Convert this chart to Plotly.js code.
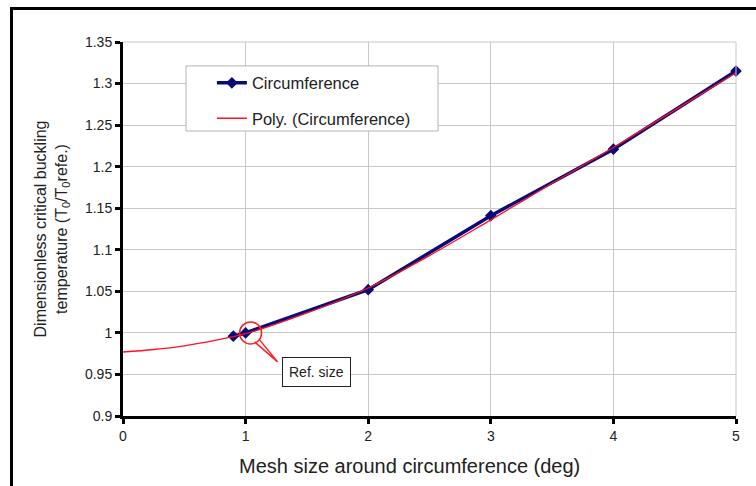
<!DOCTYPE html>
<html>
<head>
<meta charset="utf-8">
<script src="https://cdn.plot.ly/plotly-3.0.1.min.js"></script>
<style>
  html, body { margin: 0; padding: 0; background: #fff; }
  #wrap { position: relative; width: 756px; height: 486px; overflow: hidden; }
  #chart { position: absolute; left: 0; top: 0; width: 756px; height: 486px; }
  #frame { position: absolute; left: 10px; top: 7px; width: 760px; height: 500px;
           border-top: 3px solid #000; border-left: 3px solid #000; pointer-events: none; }
</style>
</head>
<body>
<div id="wrap">
  <div id="chart"></div>
  <div id="frame"></div>
</div>
<script>
// Mesh size around the circumference (deg) and the resulting buckling temperature ratio
const meshSize = [0.9, 1, 2, 3, 4, 5];
const bucklingRatio = [0.996, 1.000, 1.052, 1.141, 1.221, 1.315];

// Polynomial trend line through the same series
const trendX = [0, 0.25, 0.5, 0.75, 1, 1.5, 2, 2.5, 3, 3.5, 4, 4.5, 5];
const trendY = [0.977, 0.980, 0.9845, 0.991, 0.999, 1.024, 1.054, 1.093, 1.136, 1.180, 1.223, 1.268, 1.313];

// Axis ticks
const yTicks = [0.9, 0.95, 1, 1.05, 1.1, 1.15, 1.2, 1.25, 1.3, 1.35];
const yTickText = ['0.9', '0.95', '1', '1.05', '1.1', '1.15', '1.2', '1.25', '1.3', '1.35'];
const xTicks = [0, 1, 2, 3, 4, 5];

// Reference mesh size that is highlighted
const refX = 1;
const refY = 1.000;

const font = 'Arial, "Liberation Sans", sans-serif';

const traces = [
  {
    x: meshSize, y: bucklingRatio,
    type: 'scatter', mode: 'lines+markers',
    name: 'Circumference',
    legendgroup: 'a',
    line: { color: '#0a0a78', width: 3.5 },
    marker: { symbol: 'diamond', size: 9, color: '#0a0a78' },
    cliponaxis: false
  },
  {
    x: trendX, y: trendY,
    type: 'scatter', mode: 'lines',
    name: 'Poly. (Circumference)',
    legendgroup: 'b',
    line: { color: '#ff1020', width: 1.3, shape: 'spline', smoothing: 1 },
    cliponaxis: false
  }
];

const layout = {
  width: 756, height: 486,
  margin: { l: 123, r: 20, t: 42, b: 70 },
  paper_bgcolor: '#fff',
  plot_bgcolor: '#fff',
  font: { family: font, color: '#222', size: 14 },
  showlegend: true,
  legend: {
    x: 0.145, y: 0.937, xanchor: 'left', yanchor: 'top',
    bgcolor: 'rgba(0,0,0,0)', borderwidth: 0,
    font: { family: font, size: 16.5, color: '#222' },
    traceorder: 'grouped', tracegroupgap: 11
  },
  xaxis: {
    range: [0, 5], tickvals: xTicks, ticktext: xTicks.map(String),
    showgrid: true, gridcolor: '#c8c8c8', gridwidth: 1,
    zeroline: false, showline: true, linecolor: '#000', linewidth: 3,
    ticks: 'outside', ticklen: 5, tickwidth: 3, tickcolor: '#000',
    tickfont: { family: font, size: 14, color: '#222' }
  },
  yaxis: {
    range: [0.9, 1.35], tickvals: yTicks, ticktext: yTickText,
    showgrid: true, gridcolor: '#c8c8c8', gridwidth: 1,
    zeroline: false, showline: true, linecolor: '#000', linewidth: 3,
    ticks: 'outside', ticklen: 5, tickwidth: 3, tickcolor: '#000',
    tickfont: { family: font, size: 14, color: '#222' },
    title: {
      text: 'Dimensionless critical buckling<br>temperature (T<sub>0</sub>/T<sub>0</sub>refe.)',
      font: { family: font, size: 16, color: '#222' }, standoff: 14
    }
  },
  shapes: [
    // top grid border at 1.35 and right border at 5
    { type: 'line', xref: 'paper', yref: 'paper', x0: 0, x1: 1, y0: 1, y1: 1, line: { color: '#c8c8c8', width: 1 } },
    { type: 'line', xref: 'paper', yref: 'paper', x0: 1, x1: 1, y0: 0, y1: 1, line: { color: '#c8c8c8', width: 1 } },
    // legend frame
    {
      type: 'rect', xref: 'paper', yref: 'paper', layer: 'above',
      x0: 0.1028, x1: 0.5139, y0: 0.762, y1: 0.936,
      line: { color: '#b4b4b4', width: 1 }, fillcolor: '#fff'
    },
    // circle around the reference point
    {
      type: 'circle', xref: 'x', yref: 'y', xsizemode: 'pixel', ysizemode: 'pixel',
      xanchor: refX, yanchor: refY, x0: -6, x1: 16, y0: -11, y1: 11,
      line: { color: '#ff2020', width: 1.5 }, fillcolor: 'rgba(0,0,0,0)'
    },
    // callout pointer from the circle to the label
    {
      type: 'path', xref: 'x', yref: 'y', xsizemode: 'pixel', ysizemode: 'pixel',
      xanchor: refX, yanchor: refY,
      path: 'M 9,-9 L 32,-29 L 14,-7',
      line: { color: '#ff2020', width: 1.5 }
    }
  ],
  annotations: [
    {
      x: 1.575, y: 0.953, xref: 'x', yref: 'y',
      text: 'Ref. size', showarrow: false,
      font: { family: font, size: 14, color: '#222' },
      bgcolor: '#fff', bordercolor: '#222', borderwidth: 1, borderpad: 6
    },
    // x-axis title
    {
      x: 0.468, y: -0.134, xref: 'paper', yref: 'paper',
      xanchor: 'center', yanchor: 'middle',
      text: 'Mesh size around circumference (deg)', showarrow: false,
      font: { family: font, size: 20, color: '#222' }
    }
  ]
};

Plotly.newPlot('chart', traces, layout, { displayModeBar: false, staticPlot: true });
</script>
</body>
</html>
